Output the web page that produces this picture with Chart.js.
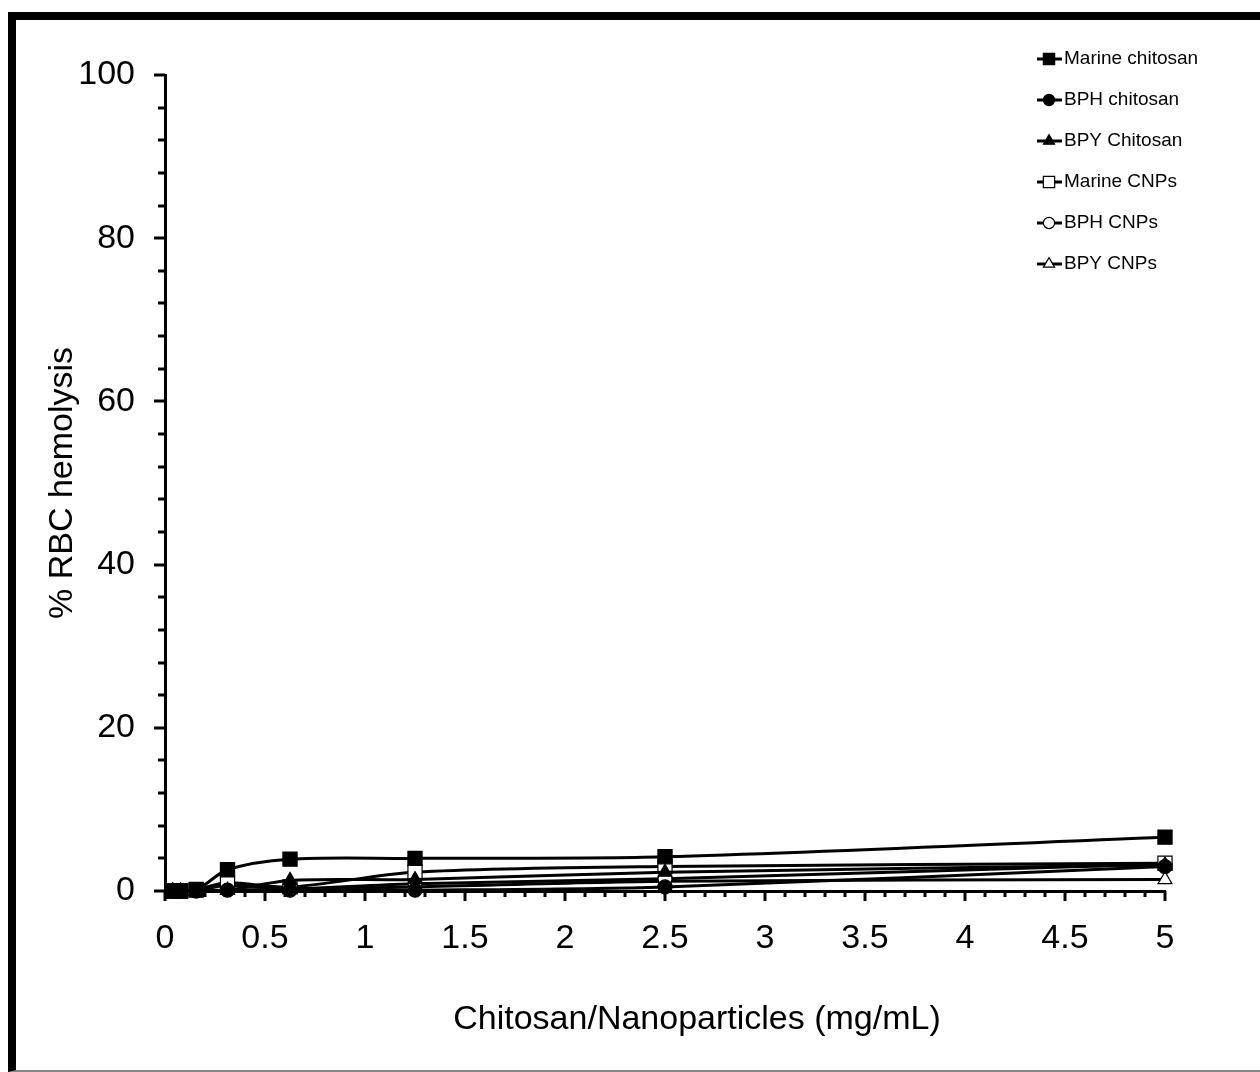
<!DOCTYPE html>
<html>
<head>
<meta charset="utf-8">
<title>RBC hemolysis</title>
<script src="https://cdn.jsdelivr.net/npm/chart.js@4.4.0/dist/chart.umd.min.js"></script>
<style>
html,body{margin:0;padding:0;background:#fff;}
#wrap{position:relative;width:1260px;height:1072px;overflow:hidden;}
#frame{position:absolute;left:8px;top:12px;width:1300px;height:1050px;border-left:8px solid #000;border-top:8px solid #000;border-bottom:2px solid #888;}
#chart{position:absolute;left:0;top:0;}
</style>
</head>
<body>
<div id="wrap">
  <div id="frame"></div>
  <canvas id="chart" width="1260" height="1072"></canvas>
</div>
<script>
/* ---------------- Data ---------------- */
const concentrations = [0.039, 0.078, 0.156, 0.3125, 0.625, 1.25, 2.5, 5];
const marineChitosan = [0, 0, 0.1, 2.6, 3.9, 4.0, 4.2, 6.6];
const bphChitosan    = [0, 0, 0, 0.1, 0.1, 0.1, 0.5, 3.0];
const bpyChitosan    = [0, 0, 0, 0.1, 1.3, 1.4, 2.3, 3.2];
const marineCNPs     = [0, 0, 0.2, 1.0, 0.5, 2.3, 3.0, 3.4];
const bphCNPs        = [0, 0, 0, 0.7, 0.3, 0.9, 1.5, 3.3];
const bpyCNPs        = [0, 0, 0, 0.1, 0.2, 0.5, 1.2, 1.4];
const seriesNames = ['Marine chitosan', 'BPH chitosan', 'BPY Chitosan', 'Marine CNPs', 'BPH CNPs', 'BPY CNPs'];
const xTickValues = [0, 0.5, 1, 1.5, 2, 2.5, 3, 3.5, 4, 4.5, 5];
const yTickValues = [0, 20, 40, 60, 80, 100];
const xTitle = 'Chitosan/Nanoparticles (mg/mL)';

const FONT = '"Liberation Sans", Arial, sans-serif';

const seriesValues = [marineChitosan, bphChitosan, bpyChitosan, marineCNPs, bphCNPs, bpyCNPs];
const markerShapes = ['rect', 'circle', 'triangle', 'rect', 'circle', 'triangle'];
const markerFilled = [true, true, true, false, false, false];
const markerSizes  = [10, 7, 8, 10, 7, 8];

const datasets = seriesNames.map((name, i) => ({
    label: name,
    data: concentrations.map((x, j) => ({x, y: seriesValues[i][j]})),
    borderColor: '#000',
    borderWidth: 3,
    tension: 0.3,
    clip: false,
    pointStyle: markerShapes[i],
    pointRadius: markerSizes[i],
    pointBackgroundColor: markerFilled[i] ? '#000' : '#fff',
    pointBorderColor: '#000',
    pointBorderWidth: 1.2
}));

/* ---------------- Minor / major tick marks + x title ---------------- */
const tickMarks = {
    id: 'tickMarks',
    afterDraw(chart) {
        const {ctx, chartArea, scales} = chart;
        ctx.save();
        ctx.strokeStyle = '#000';
        ctx.lineWidth = 3;
        for (let v = 0; v <= 100; v += 4) {
            const y = Math.round(scales.y.getPixelForValue(v));
            const len = v % 20 === 0 ? 11 : 7;
            ctx.beginPath(); ctx.moveTo(chartArea.left - len, y); ctx.lineTo(chartArea.left, y); ctx.stroke();
        }
        for (let k = 0; k <= 50; k++) {
            const x = Math.round(scales.x.getPixelForValue(k / 10));
            const len = k % 5 === 0 ? 10 : 6;
            ctx.beginPath(); ctx.moveTo(x, chartArea.bottom); ctx.lineTo(x, chartArea.bottom + len); ctx.stroke();
        }
        // x axis title sits a bit right of the plot centre in the original
        ctx.fillStyle = '#000';
        ctx.font = '34px ' + FONT;
        ctx.textAlign = 'center';
        ctx.textBaseline = 'middle';
        ctx.fillText(xTitle, 697, 1020);
        ctx.restore();
    }
};

/* ---------------- Legend (line + marker) ---------------- */
const lineLegend = {
    id: 'lineLegend',
    afterDraw(chart) {
        const {ctx} = chart;
        ctx.save();
        chart.data.datasets.forEach((ds, i) => {
            const y = 59 + i * 41;
            ctx.strokeStyle = '#000';
            ctx.lineWidth = 3;
            ctx.beginPath(); ctx.moveTo(1037, y); ctx.lineTo(1062, y); ctx.stroke();
            ctx.fillStyle = ds.pointBackgroundColor;
            ctx.strokeStyle = '#000';
            ctx.lineWidth = 1.2;
            Chart.helpers.drawPoint(ctx, {pointStyle: ds.pointStyle, rotation: 0, borderWidth: 1.2,
                radius: ds.pointRadius * 0.8}, 1049, y);
            ctx.fillStyle = '#000';
            ctx.font = '19px ' + FONT;
            ctx.textAlign = 'left';
            ctx.textBaseline = 'middle';
            ctx.fillText(ds.label, 1064, y);
        });
        ctx.restore();
    }
};

new Chart(document.getElementById('chart'), {
    type: 'line',
    data: {datasets},
    options: {
        responsive: false,
        animation: false,
        layout: {padding: {top: 75, right: 95, bottom: 0, left: 0}},
        plugins: {legend: {display: false}, tooltip: {enabled: false}},
        scales: {
            x: {
                type: 'linear', min: 0, max: 5,
                afterBuildTicks: s => { s.ticks = xTickValues.map(v => ({value: v})); },
                afterFit: s => { s.height = 181; },
                grid: {display: false, drawTicks: false},
                border: {display: true, color: '#000', width: 3},
                ticks: {color: '#000', padding: 27, maxRotation: 0, font: {family: FONT, size: 34},
                        callback: v => String(v)},
                title: {display: false}
            },
            y: {
                min: 0, max: 100,
                afterBuildTicks: s => { s.ticks = yTickValues.map(v => ({value: v})); },
                afterFit: s => { s.width = 165; },
                grid: {display: false, drawTicks: false},
                border: {display: true, color: '#000', width: 3},
                ticks: {color: '#000', padding: 30, font: {family: FONT, size: 34}},
                title: {display: true, text: '% RBC hemolysis', color: '#000',
                        font: {family: FONT, size: 34}, padding: {top: 42, bottom: 0}}
            }
        }
    },
    plugins: [tickMarks, lineLegend]
});
</script>
</body>
</html>
